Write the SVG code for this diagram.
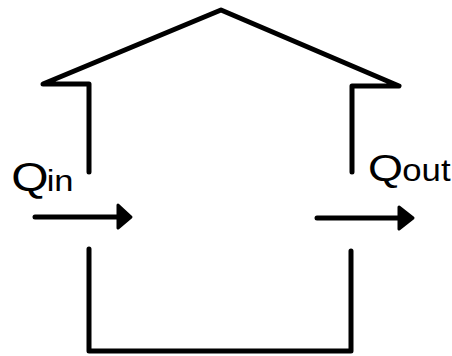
<svg xmlns="http://www.w3.org/2000/svg" width="452" height="356" viewBox="0 0 452 356">
<style>
.wall{fill:none;stroke:#000;stroke-width:5;stroke-linecap:round;stroke-linejoin:round}
.head{fill:#000;stroke:#000;stroke-width:3;stroke-linejoin:round}
.lbl{font-family:"Liberation Sans",Arial,sans-serif;fill:#000}
</style>
<rect width="452" height="356" fill="#fff"/>
<g id="house">
<path class="wall" d="M89,172 V84 H43 L221,10 L399,86 H352 V172"/>
<path class="wall" d="M89,249 V351 H351 V251"/>
</g>
<g id="connectors">
<line class="wall" x1="35" y1="217" x2="120" y2="217"/>
<polygon class="head" points="118,205 131,217 118,228"/>
<line class="wall" x1="317" y1="218" x2="400" y2="218"/>
<polygon class="head" points="399,207 413,218 399,229"/>
</g>
<g id="qin">
<text class="lbl" transform="translate(11.3,191) scale(1.2,1)" font-size="40">Q</text>
<text class="lbl" transform="translate(46.7,190.5) scale(1.15,1)" font-size="30">in</text>
</g>
<g id="qout">
<text class="lbl" transform="translate(368,181) scale(1.25,1)" font-size="36">Q</text>
<text class="lbl" transform="translate(402.3,181) scale(1.12,1)" font-size="31">out</text>
</g>
</svg>
